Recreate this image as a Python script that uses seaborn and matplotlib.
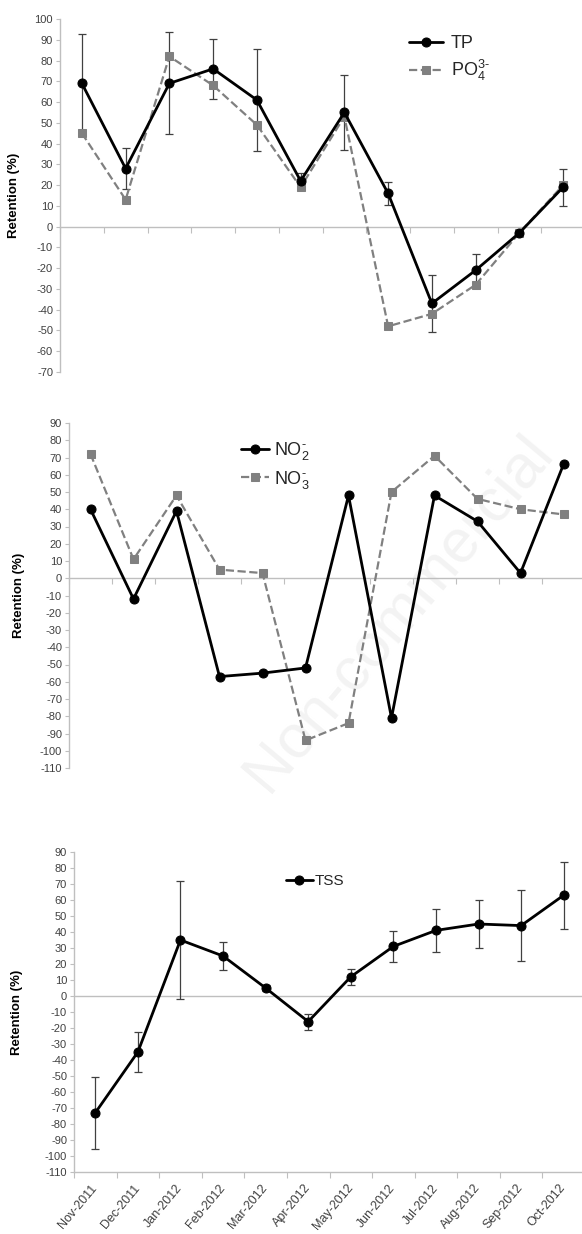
import numpy as np
import pandas as pd
import matplotlib
matplotlib.use("Agg")
import matplotlib.pyplot as plt
import seaborn as sns

# --- data ---
months = ["Nov-2011", "Dec-2011", "Jan-2012", "Feb-2012", "Mar-2012", "Apr-2012",
          "May-2012", "Jun-2012", "Jul-2012", "Aug-2012", "Sep-2012", "Oct-2012"]

tp = [69, 28, 69, 76, 61, 22, 55, 16, -37, -21, -3, 19]
tp_err = [24, 10, 24.5, 14.5, 24.5, 4, 18, 5.5, 13.5, 8, 0, 9]
po4 = [45, 13, 82, 68, 49, 19, 53, -48, -42, -28, -3, 20]

no2 = [40, -12, 39, -57, -55, -52, 48, -81, 48, 33, 3, 66]
no3 = [72, 11, 48, 5, 3, -94, -84, 50, 71, 46, 40, 37]

tss = [-73, -35, 35, 25, 5, -16, 12, 31, 41, 45, 44, 63]
tss_err = [22.5, 12.5, 37, 9, 2, 5, 5, 9.5, 13.5, 15, 22, 21]

sns.set_style("white")
plt.rcParams["font.family"] = ["Liberation Sans", "DejaVu Sans"]
plt.rcParams["axes.unicode_minus"] = False
plt.rcParams["mathtext.fontset"] = "custom"
plt.rcParams["mathtext.rm"] = "Liberation Sans"
plt.rcParams["mathtext.it"] = "Liberation Sans"

W, H = 582, 1234
fig = plt.figure(figsize=(W / 100, H / 100), dpi=100)


def px_axes(left, top, right, bottom):
    return fig.add_axes([left / W, 1 - bottom / H, (right - left) / W, (bottom - top) / H])


ax1 = px_axes(60, 19, 585, 372)
ax2 = px_axes(69, 423, 585, 768)
ax3 = px_axes(74, 852, 585, 1172)

x = np.arange(len(months))
axis_grey = "#bfbfbf"
tick_col = "#404040"


def style_axis(ax, lo, hi, zero_axis=True):
    ax.set_xlim(-0.5, len(months) - 0.5)
    ax.set_ylim(lo, hi)
    ax.set_yticks(np.arange(lo, hi + 1, 10))
    ax.tick_params(axis="y", direction="out", length=3, width=0.8, color=axis_grey,
                   labelsize=8, labelcolor=tick_col, pad=2, left=True)
    for s in ["top", "right"]:
        ax.spines[s].set_visible(False)
    ax.spines["left"].set_color(axis_grey)
    ax.spines["left"].set_linewidth(1.0)
    ax.spines["bottom"].set_color(axis_grey)
    ax.spines["bottom"].set_linewidth(1.0)
    ax.set_xticks(np.arange(-0.5, len(months), 1))
    ax.set_ylabel("Retention (%)", fontsize=9.5, fontweight="bold", color="black")
    if zero_axis:
        ax.spines["bottom"].set_position(("data", 0))
        ax.tick_params(axis="x", direction="out", length=4, width=0.8, color=axis_grey,
                       labelbottom=False, bottom=True)
    ax.grid(False)


# --- panel 1: TP and PO4 ---
ax1.errorbar(x, tp, yerr=tp_err, fmt="none", ecolor="#404040", elinewidth=0.9,
             capsize=3, capthick=0.9, zorder=2)
sns.lineplot(x=x, y=po4, ax=ax1, color="#808080", linestyle="--", linewidth=1.6,
             marker="s", markersize=6, markeredgecolor="#808080",
             label=r"PO$_4^{3\text{-}}$", zorder=3)
sns.lineplot(x=x, y=tp, ax=ax1, color="black", linewidth=2.0, marker="o",
             markersize=6.5, markeredgecolor="black", label="TP", zorder=4)
style_axis(ax1, -70, 100)
ax1.yaxis.set_label_coords((20 - 60) / 525, 0.5)
h, l = ax1.get_legend_handles_labels()
ax1.legend(h[::-1], l[::-1], loc="upper left", bbox_to_anchor=(0.665, 0.955), frameon=False,
           fontsize=13, handlelength=1.9, handletextpad=0.4, labelspacing=0.35,
           borderpad=0, borderaxespad=0)

# --- panel 2: NO2 and NO3 ---
sns.lineplot(x=x, y=no3, ax=ax2, color="#808080", linestyle="--", linewidth=1.6,
             marker="s", markersize=6, markeredgecolor="#808080",
             label=r"NO$_3^{\text{-}}$", zorder=3)
sns.lineplot(x=x, y=no2, ax=ax2, color="black", linewidth=2.0, marker="o",
             markersize=6.5, markeredgecolor="black",
             label=r"NO$_2^{\text{-}}$", zorder=4)
style_axis(ax2, -110, 90)
ax2.yaxis.set_label_coords((25 - 69) / 516, 0.5)
h, l = ax2.get_legend_handles_labels()
ax2.legend(h[::-1], l[::-1], loc="upper left", bbox_to_anchor=(0.333, 0.95), frameon=False,
           fontsize=13, handlelength=1.55, handletextpad=0.3, labelspacing=0.35,
           borderpad=0, borderaxespad=0)
# faint watermark
ax2.text(0.64, 0.45, "Non-commercial", transform=ax2.transAxes, rotation=50,
         fontsize=44, color="#f3f3f3", ha="center", va="center", zorder=0)

# --- panel 3: TSS ---
ax3.axhline(0, color=axis_grey, linewidth=1.0, zorder=1)
ax3.errorbar(x, tss, yerr=tss_err, fmt="none", ecolor="#404040", elinewidth=0.9,
             capsize=3, capthick=0.9, zorder=2)
sns.lineplot(x=x, y=tss, ax=ax3, color="black", linewidth=2.0, marker="o",
             markersize=6.5, markeredgecolor="black", label="TSS", zorder=4)
style_axis(ax3, -110, 90, zero_axis=False)
ax3.yaxis.set_label_coords((23 - 74) / 511, 0.5)
ax3.tick_params(axis="x", which="major", direction="out", length=4, width=0.8,
                color=axis_grey, labelbottom=False, bottom=True)
ax3.set_xticks(x, minor=True)
ax3.set_xticklabels(months, minor=True, rotation=50, ha="right", va="center",
                    rotation_mode="anchor", fontsize=9, color=tick_col)
ax3.tick_params(axis="x", which="minor", length=0, pad=10)
ax3.legend(loc="upper left", bbox_to_anchor=(0.414, 0.93), frameon=False,
           fontsize=11, handlelength=1.8, handletextpad=0.1,
           borderpad=0, borderaxespad=0)

fig.savefig("out.png", dpi=100)
